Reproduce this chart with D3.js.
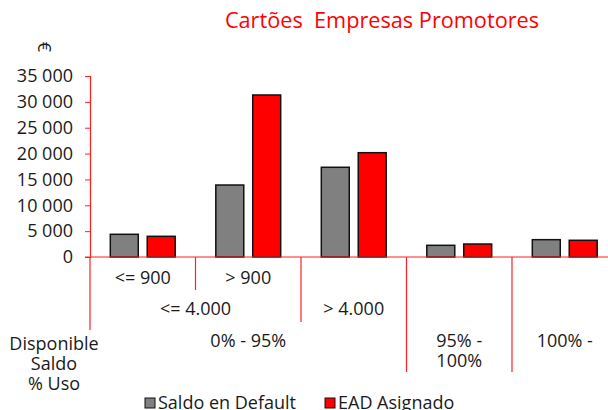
<!DOCTYPE html>
<html>
<head>
<meta charset="utf-8">
<script src="https://cdn.jsdelivr.net/npm/d3@7"></script>
<style>
  body { margin: 0; background: #fff; }
  svg text { font-family: "Open Sans", sans-serif; fill: #1a1a1a; }
</style>
</head>
<body>
<svg></svg>
<script>
// values
const series = ["Saldo en Default", "EAD Asignado"];
const saldoDefault = [4390, 13920, 17350, 2260, 3350];
const eadAsignado = [4000, 31330, 20170, 2510, 3230];
const yTicks = [0, 5000, 10000, 15000, 20000, 25000, 30000, 35000];

// hierarchical category labels: [label, first category, end category]
const level1Labels = [["<= 900", 0, 1], ["> 900", 1, 2]];
const level2Labels = [["<= 4.000", 0, 2], ["> 4.000", 2, 3]];
const level3Labels = [["0% - 95%", 0, 3], ["95% -|100%", 3, 4], ["100% -", 4, 5]];
const rowTitles = ["Disponible", "Saldo", "% Uso"];
const title = "Cartões  Empresas Promotores";

const colors = { "Saldo en Default": "#808080", "EAD Asignado": "#ff0000" };
const axisRed = "#ff2020";

const W = 608, H = 410;
const svg = d3.select("svg").attr("width", W).attr("height", H);

const nCat = saldoDefault.length;
const catStep = 105.5;
const x0 = d3.scaleBand()
    .domain(d3.range(nCat))
    .range([90, 90 + catStep * nCat])
    .padding(0);

const x1 = d3.scaleBand()
    .domain(series)
    .range([0, catStep])
    .paddingInner(0.243)
    .paddingOuter(0.55);

const y = d3.scaleLinear()
    .domain([0, 35000])
    .range([257, 76]);

const fmt = d3.formatLocale({ decimal: ",", thousands: " ", grouping: [3] }).format(",d");

// title
svg.append("text")
    .attr("x", 382).attr("y", 28)
    .attr("text-anchor", "middle")
    .style("font-size", "21.7px")
    .style("fill", "#ff0000")
    .style("white-space", "pre")
    .text(title);

// y axis title (euro), turned clockwise
svg.append("text")
    .attr("transform", "translate(45,47) rotate(90)")
    .attr("text-anchor", "middle")
    .attr("dominant-baseline", "central")
    .style("font-size", "18px")
    .text("€");

// y axis
const yAxis = svg.append("g")
    .attr("transform", "translate(90,0)")
    .call(d3.axisLeft(y).tickValues(yTicks).tickFormat(fmt).tickSize(5).tickPadding(12));
yAxis.select(".domain").attr("stroke", axisRed).attr("stroke-width", 1.2);
yAxis.selectAll(".tick line").attr("stroke", axisRed);
yAxis.selectAll(".tick text").style("font-size", "18px").attr("fill", "#1a1a1a");

// bars
const data = d3.range(nCat).map(i => ({ i, values: [saldoDefault[i], eadAsignado[i]] }));
const groups = svg.append("g")
    .selectAll("g")
    .data(data)
    .join("g")
    .attr("transform", d => `translate(${x0(d.i)},0)`);

groups.selectAll("rect")
    .data(d => series.map((s, k) => ({ s, v: d.values[k] })))
    .join("rect")
    .attr("x", d => x1(d.s))
    .attr("y", d => y(d.v))
    .attr("width", x1.bandwidth())
    .attr("height", d => y(0) - y(d.v))
    .attr("fill", d => colors[d.s])
    .attr("stroke", "#111")
    .attr("stroke-width", 1.5);

// x axis baseline
svg.append("line")
    .attr("x1", 85).attr("x2", W)
    .attr("y1", y(0)).attr("y2", y(0))
    .attr("stroke", axisRed).attr("stroke-width", 1.2);

// category separators: boundary index -> bottom y
const sepBottoms = [[0, 330], [1, 290], [2, 322], [3, 372], [4, 372]];
svg.append("g")
    .selectAll("line")
    .data(sepBottoms)
    .join("line")
    .attr("x1", d => x0(d[0])).attr("x2", d => x0(d[0]))
    .attr("y1", y(0)).attr("y2", d => d[1])
    .attr("stroke", axisRed).attr("stroke-width", 1.2);

// multi-level category labels
function drawLevel(labels, yPos) {
  labels.forEach(([lab, a, b]) => {
    const cx = (x0(a) + x0(b - 1) + x0.bandwidth()) / 2;
    const t = svg.append("text")
        .attr("x", cx).attr("y", yPos)
        .attr("text-anchor", "middle")
        .attr("dominant-baseline", "central")
        .style("font-size", "18px");
    lab.split("|").forEach((ln, k) => {
      t.append("tspan").attr("x", cx).attr("dy", k === 0 ? 0 : 20).text(ln);
    });
  });
}
drawLevel(level1Labels, 277);
drawLevel(level2Labels, 308);
drawLevel(level3Labels, 340);

// row titles on the left
svg.append("g")
    .selectAll("text")
    .data(rowTitles)
    .join("text")
    .attr("x", 54)
    .attr("y", (d, k) => 343 + k * 20)
    .attr("text-anchor", "middle")
    .attr("dominant-baseline", "central")
    .style("font-size", "18px")
    .text(d => d);

// legend
const legendX = [145, 325];
const legend = svg.append("g")
    .selectAll("g")
    .data(series)
    .join("g")
    .attr("transform", (d, k) => `translate(${legendX[k]},0)`);
legend.append("rect")
    .attr("x", 0).attr("y", 398)
    .attr("width", 10).attr("height", 10)
    .attr("fill", d => colors[d])
    .attr("stroke", "#111").attr("stroke-width", 1);
legend.append("text")
    .attr("x", 13).attr("y", 409)
    .style("font-size", "18px")
    .text(d => d);
</script>
</body>
</html>
